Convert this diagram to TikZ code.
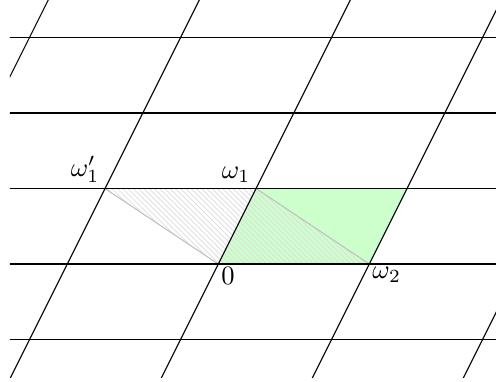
\documentclass[tikz,border=0pt]{standalone}
\usetikzlibrary{patterns.meta}
\begin{document}
\begin{tikzpicture}
  [cell/.style={fill=green!20},
   hatch/.style={pattern={Lines[angle=-45,distance=1.4pt,line width=0.3pt]},pattern color=gray!25},
   diag/.style={draw=gray!50}]
  \useasboundingbox (-2.891,-1.55) rectangle (3.678,3.497);
  \coordinate (o) at (0,0);
  \coordinate (w1) at (0.5,1);
  \coordinate (w2) at (2,0);
  \coordinate (w1p) at (-1.5,1);
  \coordinate (w12) at (2.5,1);

  \fill[cell] (o) -- (w2) -- (w12) -- (w1) -- cycle;
  \fill[hatch] (w1p) -- (w1) -- (w2) -- (o) -- cycle;
  \draw[diag] (w1p) -- (o);
  \draw[diag] (w1) -- (w2);

  \begin{scope}
    \clip (-2.76,-1.5) rectangle (3.7,3.5);
    \foreach \y in {-1,...,3}
      \draw (-3,\y) -- (4,\y);
    \foreach \k in {-2,...,2}
      \draw (2*\k-1,-2) -- (2*\k+2,4);
  \end{scope}

  \node (l0) at (o) [below right,inner sep=1pt] {$0$};
  \node (l2) at (w2) [below right,inner sep=1pt] {$\omega_2$};
  \node (l1) at (w1) [above left,inner sep=2pt] {$\omega_1$};
  \node (l1p) at (w1p) [above left,inner sep=2pt] {$\omega_1'$};
\end{tikzpicture}
\end{document}
